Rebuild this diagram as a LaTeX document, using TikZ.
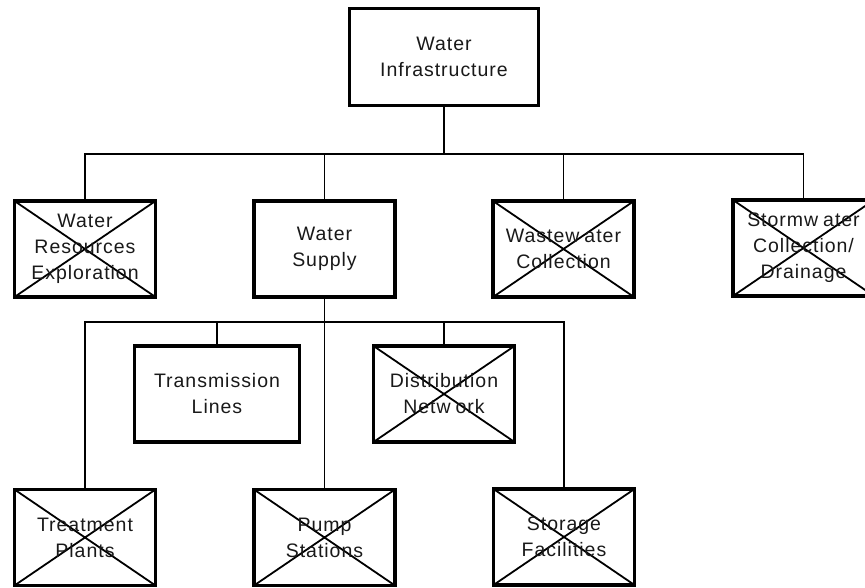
\documentclass[tikz,border=0pt]{standalone}
\usepackage{fontspec}
\newfontfamily\boxfont{Liberation Sans}[LetterSpace=5]
\begin{document}
\begin{tikzpicture}[x=1pt,y=-1pt,
  unit/.style={draw=black, line width=3.2pt, fill=white, inner sep=0pt,
    minimum width=#1, minimum height=96pt, align=center,
    font=\boxfont\fontsize{19.5}{26}\selectfont, text=black!90},
  unit/.default=141pt,
  crossed/.style={path picture={
    \draw[line width=1.8pt]
      (path picture bounding box.north west) -- (path picture bounding box.south east)
      (path picture bounding box.north east) -- (path picture bounding box.south west);}},
  link/.style={draw=black, line width=1.8pt},
  trunk/.style={draw=black, line width=1.4pt}]
\useasboundingbox (0,0) rectangle (865,588);

% top level
\node[unit=189pt, minimum height=97pt] (infra) at (444,57) {Water\\Infrastructure};

% second level
\node[unit, crossed] (wre)    at (85,249)    {Water\\Resources\\Exploration};
\node[unit]          (supply) at (324.5,249) {Water\\Supply};
\node[unit, crossed] (waste)  at (563.5,249) {Wastew\kern5pt ater\\Collection};
\node[unit, crossed] (storm)  at (803.5,248) {Stormw\kern5pt ater\\Collection/\\Drainage};

% water supply branches
\node[unit=165pt]            (trans) at (217,394)     {Transmission\\Lines};
\node[unit, crossed]         (dist)  at (444,394)     {Distribution\\Netw\kern5pt ork};
\node[unit, crossed]         (treat) at (85,537.5)    {Treatment\\Plants};
\node[unit, crossed]         (pump)  at (324.5,537.5) {Pump\\Stations};
\node[unit, crossed]         (store) at (564,537)     {Storage\\Facilities};

% bus lines
\coordinate (bus1) at (444,154);
\coordinate (bus2) at (324.5,322);

\draw[link] (infra.south) -- (bus1);
\draw[link] (wre.north)   |- (bus1);
\draw[link] (supply.north)|- (bus1);
\draw[link] (waste.north) |- (bus1);
\draw[link] (storm.north) |- (bus1);

\draw[trunk] (supply.south) -- (pump.north);
\draw[link] (treat.north) |- (bus2);
\draw[link] (trans.north) |- (bus2);
\draw[link] (dist.north)  |- (bus2);
\draw[link] (store.north) |- (bus2);
\end{tikzpicture}
\end{document}
